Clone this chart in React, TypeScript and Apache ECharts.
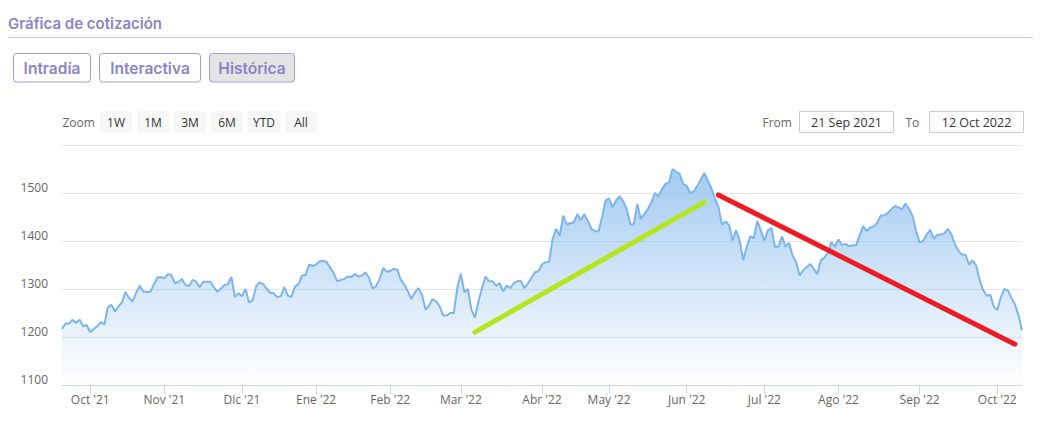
import React, { useEffect, useRef } from "react";
import * as echarts from "echarts";

// ---------- data ----------
const START_DATE = "2021-09-21";
const END_DATE = "2022-10-12";
const MARKET_HOLIDAYS = ["2021-12-24", "2021-12-31", "2022-04-15", "2022-04-18"];
const MONTH_ABBR = ["Ene", "Feb", "Mar", "Abr", "May", "Jun", "Jul", "Ago", "Sep", "Oct", "Nov", "Dic"];

// one closing value per trading day
const closePrices = [
  1217, 1228, 1228, 1236, 1229, 1236, 1222, 1225, 1210, 1217,
  1222, 1231, 1226, 1262, 1267, 1253, 1264, 1272, 1294, 1281,
  1274, 1292, 1307, 1295, 1294, 1294, 1309, 1324, 1325, 1322,
  1331, 1329, 1312, 1315, 1321, 1308, 1306, 1319, 1315, 1304,
  1315, 1315, 1315, 1304, 1294, 1301, 1308, 1310, 1325, 1283,
  1291, 1285, 1300, 1272, 1276, 1306, 1314, 1310, 1301, 1292,
  1291, 1283, 1285, 1304, 1286, 1283, 1305, 1310, 1328, 1329,
  1351, 1348, 1351, 1358, 1359, 1356, 1344, 1333, 1316, 1319,
  1321, 1326, 1325, 1331, 1326, 1328, 1335, 1323, 1301, 1306,
  1321, 1344, 1336, 1338, 1342, 1340, 1319, 1309, 1295, 1279,
  1293, 1302, 1288, 1257, 1265, 1279, 1274, 1264, 1245, 1245,
  1250, 1250, 1302, 1332, 1293, 1300, 1257, 1240, 1274, 1302,
  1326, 1316, 1316, 1307, 1312, 1295, 1307, 1302, 1312, 1316,
  1317, 1302, 1312, 1323, 1335, 1337, 1351, 1356, 1357, 1404,
  1425, 1411, 1453, 1435, 1437, 1439, 1456, 1444, 1456, 1442,
  1425, 1421, 1420, 1449, 1484, 1489, 1470, 1485, 1493, 1483,
  1467, 1435, 1435, 1477, 1446, 1456, 1467, 1481, 1500, 1493,
  1508, 1519, 1522, 1550, 1544, 1540, 1519, 1515, 1500, 1503,
  1515, 1528, 1542, 1525, 1510, 1488, 1471, 1434, 1441, 1433,
  1401, 1422, 1401, 1360, 1388, 1410, 1406, 1442, 1422, 1401,
  1422, 1427, 1388, 1388, 1410, 1388, 1396, 1370, 1356, 1328,
  1339, 1346, 1352, 1342, 1331, 1360, 1365, 1376, 1397, 1388,
  1403, 1391, 1394, 1389, 1391, 1391, 1412, 1431, 1421, 1428,
  1430, 1439, 1453, 1453, 1459, 1466, 1473, 1470, 1466, 1478,
  1467, 1452, 1421, 1397, 1400, 1414, 1423, 1405, 1413, 1413,
  1416, 1425, 1414, 1393, 1379, 1372, 1371, 1351, 1360, 1349,
  1319, 1298, 1286, 1288, 1263, 1256, 1283, 1300, 1297, 1281,
  1268, 1245, 1214,
];

// hand-drawn trend lines
const trendUpDates = ["2022-03-07", "2022-06-08"];
const trendUpValues = [1210, 1481];
const trendDownDates = ["2022-06-14", "2022-10-10"];
const trendDownValues = [1496, 1185];

const Y_MIN = 1100;
const Y_MAX = 1600;
const Y_STEP = 100;

const TAB_LABELS = ["Intradía", "Interactiva", "Histórica"];
const RANGE_LABELS = ["1W", "1M", "3M", "6M", "YTD", "All"];
const FROM_TEXT = "21 Sep 2021";
const TO_TEXT = "12 Oct 2022";

// ---------- helpers ----------
function buildTradingDays(): string[] {
  const out: string[] = [];
  const d = new Date(START_DATE + "T00:00:00Z");
  const end = new Date(END_DATE + "T00:00:00Z");
  while (d.getTime() <= end.getTime()) {
    const wd = d.getUTCDay();
    const s = d.toISOString().slice(0, 10);
    if (wd !== 0 && wd !== 6 && MARKET_HOLIDAYS.indexOf(s) < 0) out.push(s);
    d.setUTCDate(d.getUTCDate() + 1);
  }
  return out;
}

const FONT = '"Open Sans", "Liberation Sans", Arial, sans-serif';
const HEAD_FONT = 'Inter, "Open Sans", sans-serif';
const PURPLE = "#8b83c6";

export default function App() {
  const ref = useRef<HTMLDivElement>(null);

  useEffect(() => {
    if (!ref.current) return;
    const chart = echarts.init(ref.current, undefined, { renderer: "svg" });
    const days = buildTradingDays();
    const isMonthStart = (i: number) =>
      i > 0 && days[i] && days[i - 1] && days[i].slice(5, 7) !== days[i - 1].slice(5, 7);

    const tabX = [13.5, 99.5, 209.5];
    const tabW = [77, 101, 85];
    const graphics: any[] = [
      {
        type: "text",
        x: 8,
        y: 23,
        style: {
          text: "Gráfica de cotización",
          font: `600 15px ${HEAD_FONT}`,
          fill: PURPLE,
          textVerticalAlign: "middle",
          verticalAlign: "middle",
        },
      },
      {
        type: "line",
        shape: { x1: 8, y1: 37.5, x2: 1033, y2: 37.5 },
        style: { stroke: "#cbc6e6", lineWidth: 1 },
      },
    ];
    TAB_LABELS.forEach((t, k) => {
      graphics.push({
        type: "rect",
        shape: { x: tabX[k], y: 53.5, width: tabW[k], height: 28.5, r: 3 },
        style: { fill: k === 2 ? "#e4e4e4" : "#ffffff", stroke: "#a39bd6", lineWidth: 1 },
      });
      graphics.push({
        type: "text",
        x: tabX[k] + tabW[k] / 2,
        y: 68,
        style: {
          text: t,
          font: `600 15.5px ${HEAD_FONT}`,
          fill: PURPLE,
          textAlign: "center",
          align: "center",
          textVerticalAlign: "middle",
          verticalAlign: "middle",
        },
      });
    });
    graphics.push({
      type: "text",
      x: 62.5,
      y: 122,
      style: { text: "Zoom", font: `12px ${FONT}`, fill: "#666666", textVerticalAlign: "middle", verticalAlign: "middle" },
    });
    RANGE_LABELS.forEach((t, k) => {
      const bx = 100 + 37 * k;
      graphics.push({
        type: "rect",
        shape: { x: bx, y: 111, width: 32, height: 22, r: 2 },
        style: { fill: "#f7f7f7" },
      });
      graphics.push({
        type: "text",
        x: bx + 16,
        y: 122,
        style: {
          text: t,
          font: `12px ${FONT}`,
          fill: "#333333",
          textAlign: "center",
          align: "center",
          textVerticalAlign: "middle",
          verticalAlign: "middle",
        },
      });
    });
    const inputs = [
      { label: "From", lx: 762.5, bx: 799.5, val: FROM_TEXT },
      { label: "To", lx: 905.5, bx: 929.5, val: TO_TEXT },
    ];
    inputs.forEach((f) => {
      graphics.push({
        type: "text",
        x: f.lx,
        y: 122,
        style: { text: f.label, font: `12px ${FONT}`, fill: "#666666", textVerticalAlign: "middle", verticalAlign: "middle" },
      });
      graphics.push({
        type: "rect",
        shape: { x: f.bx, y: 111.5, width: 94, height: 21 },
        style: { fill: "#ffffff", stroke: "#cccccc", lineWidth: 1 },
      });
      graphics.push({
        type: "text",
        x: f.bx + 47,
        y: 122,
        style: {
          text: f.val,
          font: `12.5px ${FONT}`,
          fill: "#333333",
          textAlign: "center",
          align: "center",
          textVerticalAlign: "middle",
          verticalAlign: "middle",
        },
      });
    });

    chart.setOption({
      animation: false,
      textStyle: { fontFamily: FONT },
      grid: { left: 62, right: 32, top: 145, bottom: 44, containLabel: false },
      graphic: graphics,
      xAxis: {
        type: "category",
        data: days,
        boundaryGap: false,
        axisLine: { lineStyle: { color: "#ccd6eb", width: 1 } },
        axisTick: {
          show: true,
          length: 9,
          interval: (i: number) => isMonthStart(i),
          lineStyle: { color: "#ccd6eb" },
        },
        axisLabel: {
          interval: (i: number) => isMonthStart(i),
          hideOverlap: false,
          color: "#666666",
          fontSize: 12,
          fontFamily: FONT,
          margin: 8,
          formatter: (v: string) => `${MONTH_ABBR[parseInt(v.slice(5, 7), 10) - 1]} '${v.slice(2, 4)}`,
        },
        splitLine: { show: false },
      },
      yAxis: {
        type: "value",
        min: Y_MIN,
        max: Y_MAX,
        interval: Y_STEP,
        axisLine: { show: false },
        axisTick: { show: false },
        axisLabel: {
          color: "#666666",
          fontSize: 12,
          fontFamily: FONT,
          margin: 14,
          showMaxLabel: false,
          verticalAlign: "bottom",
          formatter: (v: number) => String(v),
        },
        splitLine: { lineStyle: { color: "#e6e6e6", width: 1 } },
      },
      series: [
        {
          type: "line",
          name: "Cotización",
          data: closePrices,
          symbol: "none",
          lineStyle: { color: "#7cb5ec", width: 2 },
          itemStyle: { color: "#7cb5ec" },
          areaStyle: {
            color: new echarts.graphic.LinearGradient(0, 0, 0, 1, [
              { offset: 0, color: "rgba(124,181,236,1)" },
              { offset: 1, color: "rgba(124,181,236,0)" },
            ]),
          },
          emphasis: { disabled: true },
          z: 2,
        },
        {
          type: "line",
          name: "Tendencia alcista",
          data: trendUpDates.map((d, i) => [d, trendUpValues[i]]),
          symbol: "none",
          lineStyle: { color: "#b5e61d", width: 5, cap: "round" },
          emphasis: { disabled: true },
          z: 3,
        },
        {
          type: "line",
          name: "Tendencia bajista",
          data: trendDownDates.map((d, i) => [d, trendDownValues[i]]),
          symbol: "none",
          lineStyle: { color: "#ed1c24", width: 5, cap: "round" },
          emphasis: { disabled: true },
          z: 3,
        },
      ],
    });

    return () => chart.dispose();
  }, []);

  return (
    <div
      ref={ref}
      style={{ position: "absolute", left: 0, top: 0, width: 1054, height: 429, background: "#ffffff" }}
    />
  );
}
